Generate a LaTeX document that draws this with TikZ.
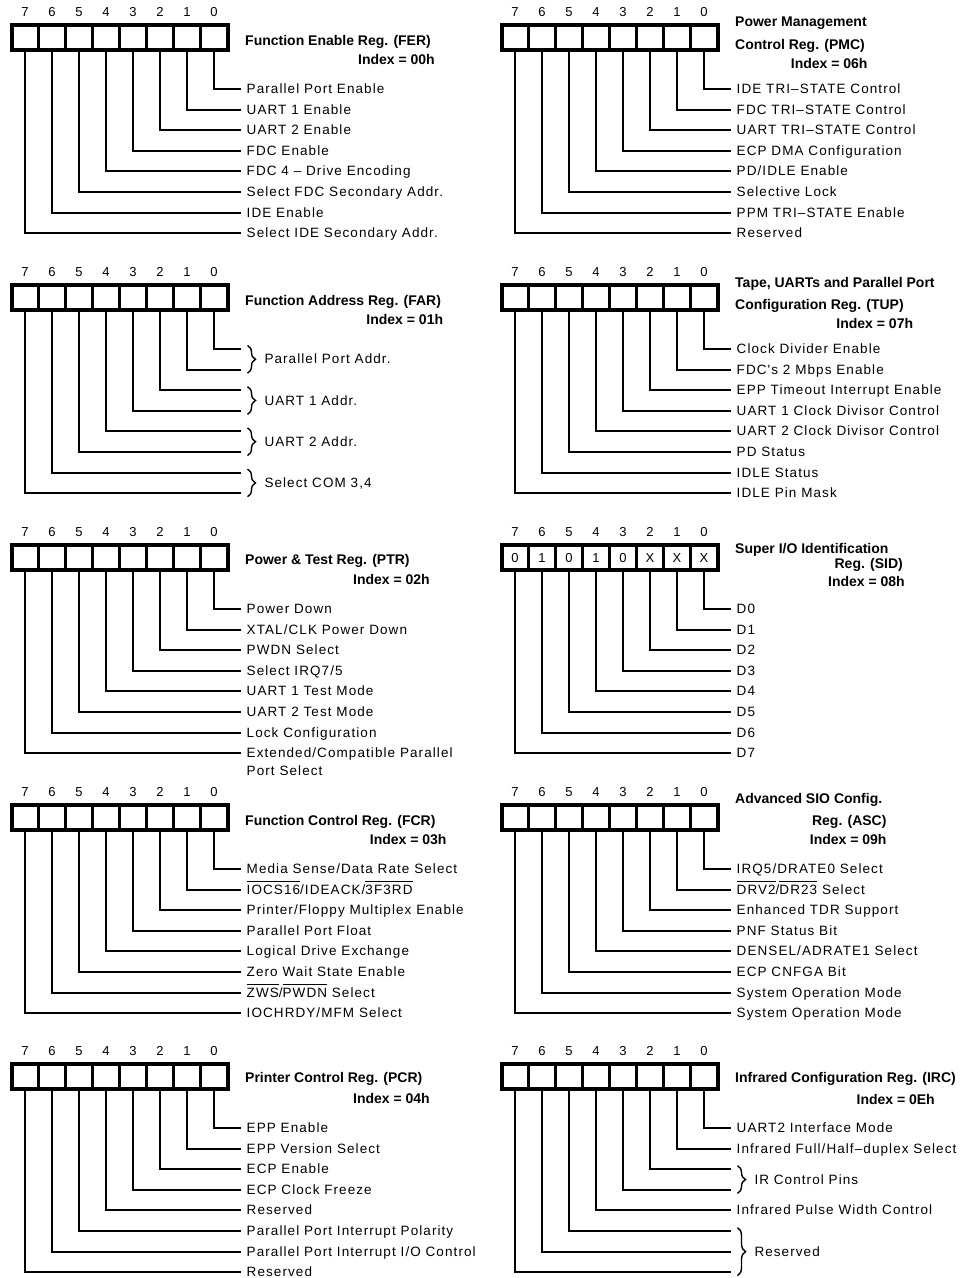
\documentclass[tikz,border=0pt]{standalone}
\usepackage{fontspec}
\setmainfont{Liberation Sans}
\newfontfamily\labfont[LetterSpace=8]{Liberation Sans}
\usetikzlibrary{decorations.pathreplacing}
\newcommand\ovl[1]{\setbox0\hbox{#1}\rlap{\rule[11.8pt]{\wd0}{1.1pt}}\box0\relax}
\tikzset{
  conn/.style={line width=2pt, line join=miter},
  boxout/.style={line width=4pt},
  boxdiv/.style={line width=3pt},
  lab/.style={anchor=base west, inner sep=0pt, font=\labfont\fontsize{13.5}{15}\selectfont},
  bitnum/.style={anchor=base, inner sep=0pt, font=\fontsize{13}{15}\selectfont},
  ttl/.style={inner sep=0pt, font=\bfseries\fontsize{14}{16}\selectfont},
  brc/.style={line width=1.4pt, decorate, decoration={brace, amplitude=8pt}},
}
% register box with bit numbers
\newcommand\regbox[1]{%
  \draw[boxout] (11.5,25.3) rectangle (227.5,50.3);
  \foreach \i in {1,...,7} \draw[boxdiv] ({11.5+27*\i},25.3) -- ({11.5+27*\i},50.3);
  \foreach \b in {0,...,7} {
    \node[bitnum] (#1n\b) at ({25+27*(7-\b)},16.7) {\b};
    \coordinate (#1c\b) at ({25+27*(7-\b)},50);
  }
}
% bit line with its label
\newcommand\bitlab[3]{%
  \coordinate (#1e#2) at (240.7,{89+20.6*#2});
  \node[lab] (#1l#2) at (246.5,{93.5+20.6*#2}) {#3};
  \draw[conn] (#1c#2) |- (#1e#2);
}
% bit line only
\newcommand\bitline[2]{%
  \coordinate (#1e#2) at (240.7,{89+20.6*#2});
  \draw[conn] (#1c#2) |- (#1e#2);
}
% brace over bits #3..#4 with text
\newcommand\bracelab[5]{%
  \draw[brc] (247.5,{89+20.6*#3-3.5}) -- (247.5,{89+20.6*#4+3.5});
  \node[lab] (#1#2) at (264.3,{93.5+20.6*(#3+#4)/2}) {#5};
}
\begin{document}
\begin{tikzpicture}[x=1pt,y=-1pt]
\useasboundingbox[fill=white] (0,0) rectangle (971,1278);

% ---------------- FER ----------------
\begin{scope}
\regbox{fer}
\bitlab{fer}{0}{Parallel Port Enable}
\bitlab{fer}{1}{UART 1 Enable}
\bitlab{fer}{2}{UART 2 Enable}
\bitlab{fer}{3}{FDC Enable}
\bitlab{fer}{4}{FDC 4 – Drive Encoding}
\bitlab{fer}{5}{Select FDC Secondary Addr.}
\bitlab{fer}{6}{IDE Enable}
\bitlab{fer}{7}{Select IDE Secondary Addr.}
\node[ttl,anchor=base west] (fert) at (245,45.7) {Function Enable Reg. (FER)};
\node[ttl,anchor=base east] (feri) at (435,64.3) {Index = 00h};
\end{scope}

% ---------------- PMC ----------------
\begin{scope}[shift={(490,0)}]
\regbox{pmc}
\bitlab{pmc}{0}{IDE TRI–STATE Control}
\bitlab{pmc}{1}{FDC TRI–STATE Control}
\bitlab{pmc}{2}{UART TRI–STATE Control}
\bitlab{pmc}{3}{ECP DMA Configuration}
\bitlab{pmc}{4}{PD/IDLE Enable}
\bitlab{pmc}{5}{Selective Lock}
\bitlab{pmc}{6}{PPM TRI–STATE Enable}
\bitlab{pmc}{7}{Reserved}
\node[ttl,anchor=base west] (pmct1) at (245,26.7) {Power Management};
\node[ttl,anchor=base west] (pmct2) at (245,49.3) {Control Reg. (PMC)};
\node[ttl,anchor=base east] (pmci) at (377.7,68.3) {Index = 06h};
\end{scope}

% ---------------- FAR ----------------
\begin{scope}[shift={(0,260)}]
\regbox{far}
\foreach \k in {0,...,7} {\bitline{far}{\k}}
\bracelab{far}{a}{0}{1}{Parallel Port Addr.}
\bracelab{far}{b}{2}{3}{UART 1 Addr.}
\bracelab{far}{c}{4}{5}{UART 2 Addr.}
\bracelab{far}{d}{6}{7}{Select COM 3,4}
\node[ttl,anchor=base west] (fart) at (245,45.7) {Function Address Reg. (FAR)};
\node[ttl,anchor=base east] (fari) at (443.3,64.3) {Index = 01h};
\end{scope}

% ---------------- TUP ----------------
\begin{scope}[shift={(490,260)}]
\regbox{tup}
\bitlab{tup}{0}{Clock Divider Enable}
\bitlab{tup}{1}{FDC's 2 Mbps Enable}
\bitlab{tup}{2}{EPP Timeout Interrupt Enable}
\bitlab{tup}{3}{UART 1 Clock Divisor Control}
\bitlab{tup}{4}{UART 2 Clock Divisor Control}
\bitlab{tup}{5}{PD Status}
\bitlab{tup}{6}{IDLE Status}
\bitlab{tup}{7}{IDLE Pin Mask}
\node[ttl,anchor=base west] (tupt1) at (245,27) {Tape, UARTs and Parallel Port};
\node[ttl,anchor=base west] (tupt2) at (245,49.3) {Configuration Reg. (TUP)};
\node[ttl,anchor=base east] (tupi) at (423.3,68.3) {Index = 07h};
\end{scope}

% ---------------- PTR ----------------
\begin{scope}[shift={(0,520)}]
\regbox{ptr}
\bitlab{ptr}{0}{Power Down}
\bitlab{ptr}{1}{XTAL/CLK Power Down}
\bitlab{ptr}{2}{PWDN Select}
\bitlab{ptr}{3}{Select IRQ7/5}
\bitlab{ptr}{4}{UART 1 Test Mode}
\bitlab{ptr}{5}{UART 2 Test Mode}
\bitlab{ptr}{6}{Lock Configuration}
\bitlab{ptr}{7}{Extended/Compatible Parallel}
\node[lab] (ptrl7b) at (246.5,255.7) {Port Select};
\node[ttl,anchor=base west] (ptrt) at (245,44) {Power \& Test Reg. (PTR)};
\node[ttl,anchor=base east] (ptri) at (430,64.3) {Index = 02h};
\end{scope}

% ---------------- SID ----------------
\begin{scope}[shift={(490,520)}]
\regbox{sid}
\foreach \b/\v in {7/0,6/1,5/0,4/1,3/0,2/X,1/X,0/X}
  \node[bitnum] (sidv\b) at ({25+27*(7-\b)},42.2) {\v};
\foreach \k in {0,...,7} {\bitlab{sid}{\k}{D\k}}
\node[ttl,anchor=base west] (sidt1) at (245,33.3) {Super I/O Identification};
\node[ttl,anchor=base east] (sidt2) at (413,48.3) {Reg. (SID)};
\node[ttl,anchor=base east] (sidi) at (415,66.7) {Index = 08h};
\end{scope}

% ---------------- FCR ----------------
\begin{scope}[shift={(0,780)}]
\regbox{fcr}
\bitlab{fcr}{0}{Media Sense/Data Rate Select}
\bitlab{fcr}{1}{\ovl{IOCS16}/IDEACK/\ovl{3F3RD}}
\bitlab{fcr}{2}{Printer/Floppy Multiplex Enable}
\bitlab{fcr}{3}{Parallel Port Float}
\bitlab{fcr}{4}{Logical Drive Exchange}
\bitlab{fcr}{5}{Zero Wait State Enable}
\bitlab{fcr}{6}{\ovl{ZWS}/\ovl{PWDN} Select}
\bitlab{fcr}{7}{IOCHRDY/MFM Select}
\node[ttl,anchor=base west] (fcrt) at (245,45.7) {Function Control Reg. (FCR)};
\node[ttl,anchor=base east] (fcri) at (446.7,64.3) {Index = 03h};
\end{scope}

% ---------------- ASC ----------------
\begin{scope}[shift={(490,780)}]
\regbox{asc}
\bitlab{asc}{0}{IRQ5/DRATE0 Select}
\bitlab{asc}{1}{\ovl{DRV2}/\ovl{DR23} Select}
\bitlab{asc}{2}{Enhanced TDR Support}
\bitlab{asc}{3}{PNF Status Bit}
\bitlab{asc}{4}{DENSEL/ADRATE1 Select}
\bitlab{asc}{5}{ECP CNFGA Bit}
\bitlab{asc}{6}{System Operation Mode}
\bitlab{asc}{7}{System Operation Mode}
\node[ttl,anchor=base west] (asct1) at (245,23.3) {Advanced SIO Config.};
\node[ttl,anchor=base east] (asct2) at (396.7,45.7) {Reg. (ASC)};
\node[ttl,anchor=base east] (asci) at (396.7,64.3) {Index = 09h};
\end{scope}

% ---------------- PCR ----------------
\begin{scope}[shift={(0,1039)}]
\regbox{pcr}
\bitlab{pcr}{0}{EPP Enable}
\bitlab{pcr}{1}{EPP Version Select}
\bitlab{pcr}{2}{ECP Enable}
\bitlab{pcr}{3}{ECP Clock Freeze}
\bitlab{pcr}{4}{Reserved}
\bitlab{pcr}{5}{Parallel Port Interrupt Polarity}
\bitlab{pcr}{6}{Parallel Port Interrupt I/O Control}
\bitlab{pcr}{7}{Reserved}
\node[ttl,anchor=base west] (pcrt) at (245,43.3) {Printer Control Reg. (PCR)};
\node[ttl,anchor=base east] (pcri) at (430,64) {Index = 04h};
\end{scope}

% ---------------- IRC ----------------
\begin{scope}[shift={(490,1039)}]
\regbox{irc}
\bitlab{irc}{0}{UART2 Interface Mode}
\bitlab{irc}{1}{Infrared Full/Half–duplex Select}
\bitline{irc}{2}
\bitline{irc}{3}
\bracelab{irc}{a}{2}{3}{IR Control Pins}
\bitlab{irc}{4}{Infrared Pulse Width Control}
\bitline{irc}{5}
\bitline{irc}{6}
\bitline{irc}{7}
\bracelab{irc}{b}{5}{7}{Reserved}
\node[ttl,anchor=base west] (irct) at (245,43.3) {Infrared Configuration Reg. (IRC)};
\node[ttl,anchor=base east] (irci) at (445,65.3) {Index = 0Eh};
\end{scope}
\end{tikzpicture}
\end{document}
